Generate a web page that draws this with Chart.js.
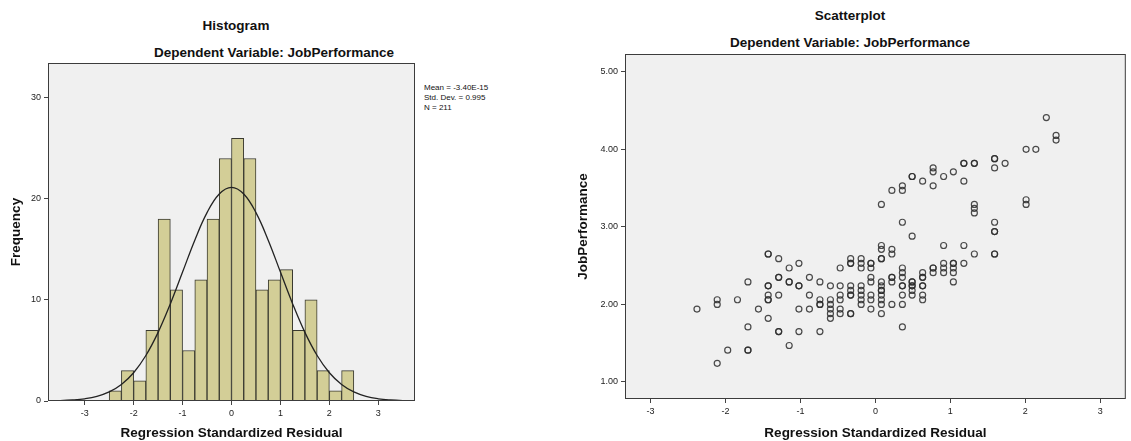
<!DOCTYPE html>
<html lang="en">
<head>
<meta charset="UTF-8">
<title>Regression residuals - JobPerformance</title>
<script src="https://cdn.jsdelivr.net/npm/chart.js"></script>
<style>
  body { margin: 0; background: #fff; font-family: "Liberation Sans", Arial, sans-serif; }
  #wrap { position: relative; width: 1131px; height: 441px; overflow: hidden; }
  .ttl { position: absolute; font-weight: bold; font-size: 13.5px; color: #111; white-space: nowrap; transform: translate(-50%, -50%); }
  .stats { position: absolute; left: 424px; top: 83px; font-size: 8px; line-height: 10px; color: #111; }
  canvas { position: absolute; top: 0; }
</style>
</head>
<body>
<div id="wrap">
  <div class="ttl" style="left:236px; top:25px;">Histogram</div>
  <div class="ttl" style="left:274px; top:52px;">Dependent Variable: JobPerformance</div>
  <div class="stats">Mean = -3.40E-15<br>Std. Dev. = 0.995<br>N = 211</div>
  <div class="ttl" style="left:850px; top:15px;">Scatterplot</div>
  <div class="ttl" style="left:850px; top:42px;">Dependent Variable: JobPerformance</div>
  <canvas id="hist" width="560" height="441" style="left:0"></canvas>
  <canvas id="scat" width="571" height="441" style="left:560px"></canvas>
</div>

<script>
// histogram: bins of width 0.25 from -2.5 to 2.5
const binCenters = [-2.375, -2.125, -1.875, -1.625, -1.375, -1.125, -0.875, -0.625, -0.375, -0.125,
                    0.125, 0.375, 0.625, 0.875, 1.125, 1.375, 1.625, 1.875, 2.125, 2.375];
const binCounts = [1, 3, 2, 7, 18, 11, 5, 12, 18, 24, 26, 24, 11, 12, 13, 7, 10, 3, 1, 3];

// normal curve
const curveX = [-3.75, -3.5, -3.25, -3, -2.75, -2.5, -2.25, -2, -1.75, -1.5, -1.25, -1, -0.75, -0.5, -0.25, 0,
                0.25, 0.5, 0.75, 1, 1.25, 1.5, 1.75, 2, 2.25, 2.5, 2.75, 3, 3.25, 3.5, 3.75];
const curveY = [0.02, 0.04, 0.10, 0.22, 0.46, 0.90, 1.64, 2.80, 4.50, 6.79, 9.61, 12.76, 15.92, 18.64, 20.49, 21.15,
                20.49, 18.64, 15.92, 12.76, 9.61, 6.79, 4.50, 2.80, 1.64, 0.90, 0.46, 0.22, 0.10, 0.04, 0.02];

const histXTicks = [-3, -2, -1, 0, 1, 2, 3];
const histYTicks = [0, 10, 20, 30];

// scatterplot: standardized residual vs JobPerformance
const residuals = [
  -2.38,
  -2.11, -2.11, -2.11,
  -1.97,
  -1.84,
  -1.70, -1.70, -1.70, -1.70,
  -1.56,
  -1.43, -1.43, -1.43, -1.43, -1.43, -1.43, -1.43, -1.43,
  -1.29, -1.29, -1.29, -1.29, -1.29, -1.29,
  -1.15, -1.15, -1.15, -1.15,
  -1.02, -1.02, -1.02, -1.02, -1.02,
  -0.88, -0.88, -0.88,
  -0.74, -0.74, -0.74, -0.74, -0.74,
  -0.60, -0.60, -0.60, -0.60, -0.60, -0.60,
  -0.47, -0.47, -0.47, -0.47, -0.47, -0.47,
  -0.33, -0.33, -0.33, -0.33, -0.33, -0.33, -0.33, -0.33, -0.33,
  -0.19, -0.19, -0.19, -0.19, -0.19, -0.19, -0.19, -0.19,
  -0.06, -0.06, -0.06, -0.06, -0.06, -0.06, -0.06, -0.06,
  0.08, 0.08, 0.08, 0.08, 0.08, 0.08, 0.08, 0.08, 0.08, 0.08, 0.08, 0.08, 0.08,
  0.22, 0.22, 0.22, 0.22, 0.22, 0.22, 0.22,
  0.36, 0.36, 0.36, 0.36, 0.36, 0.36, 0.36, 0.36, 0.36, 0.36, 0.36,
  0.49, 0.49, 0.49, 0.49, 0.49, 0.49, 0.49, 0.49, 0.49,
  0.63, 0.63, 0.63, 0.63, 0.63, 0.63, 0.63, 0.63,
  0.77, 0.77, 0.77, 0.77, 0.77, 0.77,
  0.91, 0.91, 0.91, 0.91, 0.91,
  1.04, 1.04, 1.04, 1.04, 1.04, 1.04,
  1.18, 1.18, 1.18, 1.18, 1.18,
  1.32, 1.32, 1.32, 1.32, 1.32, 1.32,
  1.59, 1.59, 1.59, 1.59, 1.59, 1.59, 1.59, 1.59,
  1.73,
  2.01, 2.01, 2.01,
  2.14,
  2.28,
  2.41, 2.41
];
const jobPerformance = [
  1.94,
  2.06, 2.00, 1.24,
  1.41,
  2.06,
  2.29, 1.71, 1.41, 1.41,
  1.94,
  2.65, 2.65, 2.24, 2.24, 2.12, 2.06, 2.06, 1.82,
  2.59, 2.35, 2.35, 2.12, 1.65, 1.65,
  2.47, 2.29, 2.29, 1.47,
  2.53, 2.24, 2.24, 1.94, 1.65,
  2.35, 2.12, 1.94,
  2.29, 2.06, 2.00, 2.00, 1.65,
  2.24, 2.06, 2.00, 1.94, 1.88, 1.82,
  2.47, 2.24, 2.12, 2.06, 1.94, 1.88,
  2.59, 2.53, 2.53, 2.24, 2.18, 2.12, 2.12, 1.88, 1.88,
  2.59, 2.53, 2.47, 2.24, 2.18, 2.12, 2.06, 2.00,
  2.53, 2.53, 2.47, 2.35, 2.29, 2.12, 2.06, 1.94,
  3.29, 2.76, 2.71, 2.59, 2.59, 2.29, 2.24, 2.18, 2.18, 2.12, 2.06, 2.00, 1.88,
  3.47, 2.71, 2.65, 2.35, 2.35, 2.29, 2.00,
  3.53, 3.47, 3.06, 2.47, 2.41, 2.35, 2.24, 2.24, 2.12, 2.00, 1.71,
  3.65, 3.65, 2.88, 2.29, 2.29, 2.24, 2.24, 2.18, 2.12,
  3.59, 2.41, 2.35, 2.35, 2.24, 2.24, 2.12, 2.06,
  3.76, 3.71, 3.53, 2.47, 2.47, 2.41,
  3.65, 2.76, 2.53, 2.47, 2.41,
  3.71, 2.53, 2.53, 2.47, 2.41, 2.29,
  3.82, 3.82, 3.59, 2.76, 2.53,
  3.82, 3.82, 3.29, 3.24, 3.18, 2.65,
  3.88, 3.88, 3.76, 3.06, 2.94, 2.94, 2.65, 2.65,
  3.82,
  4.00, 3.35, 3.29,
  4.00,
  4.41,
  4.18, 4.12
];

const scatXTicks = [-3, -2, -1, 0, 1, 2, 3];
const scatYTicks = [1, 2, 3, 4, 5];

// grey plot background + frame, SPSS style
const frame = {
  id: 'frame',
  beforeDraw(chart) {
    const { ctx, chartArea: a } = chart;
    ctx.save();
    ctx.fillStyle = '#f0f0f0';
    ctx.fillRect(a.left, a.top, a.width, a.height);
    ctx.restore();
  },
  afterDraw(chart) {
    const { ctx, chartArea: a } = chart;
    ctx.save();
    ctx.strokeStyle = '#3c3c3c';
    ctx.lineWidth = 1;
    ctx.strokeRect(a.left + 0.5, a.top + 0.5, a.width - 1, a.height - 1);
    ctx.restore();
  }
};

const tickFont = { family: '"Liberation Sans", Arial, sans-serif', size: 9 };
const titleFont = { family: '"Liberation Sans", Arial, sans-serif', size: 13.5, weight: 'bold' };

function axis(min, max, ticks, fmt, fit, title, titlePad) {
  return {
    type: 'linear', min, max, offset: false,
    afterBuildTicks: s => { s.ticks = ticks.map(v => ({ value: v })); },
    afterFit: fit,
    grid: { drawOnChartArea: false, offset: false, tickLength: 4, color: '#444' },
    border: { display: false },
    ticks: { font: tickFont, color: '#222', padding: 3, maxRotation: 0, callback: fmt },
    title: { display: true, text: title, font: titleFont, color: '#111', padding: titlePad }
  };
}

Chart.defaults.animation = false;

new Chart(document.getElementById('hist'), {
  type: 'bar',
  data: {
    datasets: [
      {
        type: 'line',
        data: curveX.map((x, i) => ({ x, y: curveY[i] })),
        borderColor: '#222',
        borderWidth: 1.3,
        pointRadius: 0,
        tension: 0.4,
        order: 0
      },
      {
        type: 'bar',
        data: binCenters.map((x, i) => ({ x, y: binCounts[i] })),
        backgroundColor: '#d3ce97',
        borderColor: '#3a3a30',
        borderWidth: 1,
        barPercentage: 1,
        categoryPercentage: 1,
        order: 1
      }
    ]
  },
  options: {
    responsive: false,
    layout: { padding: { left: 0, right: 145, top: 63, bottom: 0 } },
    plugins: { legend: { display: false }, tooltip: { enabled: false } },
    scales: {
      x: axis(-3.75, 3.75, histXTicks, v => v, s => { s.height = 40; },
              'Regression Standardized Residual', { top: 0, bottom: 0 }),
      y: axis(0, 33.45, histYTicks, v => v, s => { s.width = 48; },
              'Frequency', { top: 8, bottom: 0 })
    }
  },
  plugins: [frame]
});

new Chart(document.getElementById('scat'), {
  type: 'scatter',
  data: {
    datasets: [{
      data: residuals.map((x, i) => ({ x, y: jobPerformance[i] })),
      pointStyle: 'circle',
      pointRadius: 3,
      borderWidth: 1.2,
      borderColor: 'rgba(45,45,45,0.85)',
      backgroundColor: 'rgba(0,0,0,0)'
    }]
  },
  options: {
    responsive: false,
    layout: { padding: { left: 0, right: 2, top: 54, bottom: 0 } },
    plugins: { legend: { display: false }, tooltip: { enabled: false } },
    scales: {
      x: axis(-3.34, 3.34, scatXTicks, v => v, s => { s.height = 42; },
              'Regression Standardized Residual', { top: 0, bottom: 0 }),
      y: axis(0.78, 5.23, scatYTicks, v => v.toFixed(2), s => { s.width = 65; },
              'JobPerformance', { top: 15, bottom: 0 })
    }
  },
  plugins: [frame]
});
</script>
</body>
</html>
